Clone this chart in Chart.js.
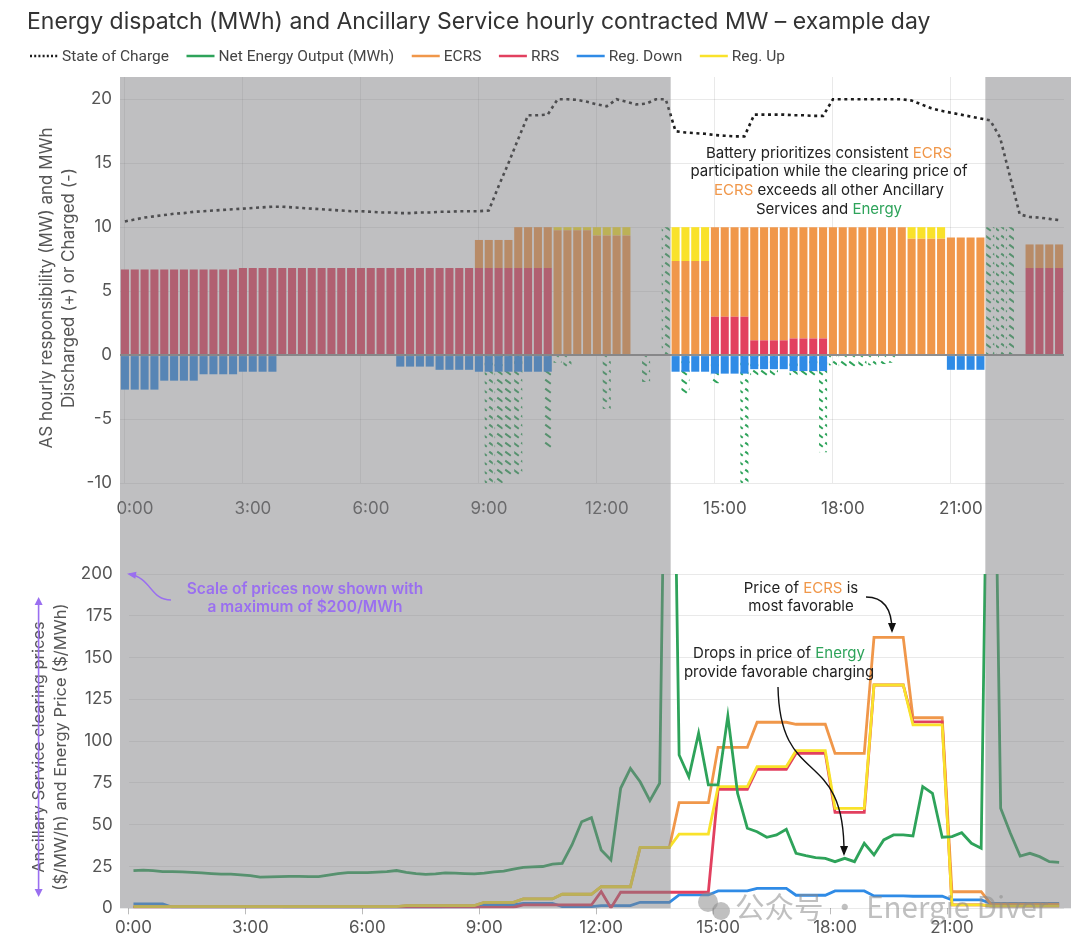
<!DOCTYPE html>
<html>
<head>
<meta charset="utf-8">
<script src="https://cdn.jsdelivr.net/npm/chart.js@4.4.1/dist/chart.umd.min.js"></script>
<style>
html,body{margin:0;padding:0;background:#fff;width:1080px;height:948px;overflow:hidden;}
canvas{position:absolute;left:0;}
#c1{top:0;}
#c2{top:545px;}
</style>
</head>
<body>
<canvas id="c1" width="1080" height="545"></canvas>
<canvas id="c2" width="1080" height="403"></canvas>
<script>
// ---------- categories (15-minute intervals) ----------
const times = ['0:00','0:15','0:30','0:45','1:00','1:15','1:30','1:45','2:00','2:15','2:30','2:45',
'3:00','3:15','3:30','3:45','4:00','4:15','4:30','4:45','5:00','5:15','5:30','5:45',
'6:00','6:15','6:30','6:45','7:00','7:15','7:30','7:45','8:00','8:15','8:30','8:45',
'9:00','9:15','9:30','9:45','10:00','10:15','10:30','10:45','11:00','11:15','11:30','11:45',
'12:00','12:15','12:30','12:45','13:00','13:15','13:30','13:45','14:00','14:15','14:30','14:45',
'15:00','15:15','15:30','15:45','16:00','16:15','16:30','16:45','17:00','17:15','17:30','17:45',
'18:00','18:15','18:30','18:45','19:00','19:15','19:30','19:45','20:00','20:15','20:30','20:45',
'21:00','21:15','21:30','21:45','22:00','22:15','22:30','22:45','23:00','23:15','23:30','23:45'];
const axisTimeLabels = ['0:00','3:00','6:00','9:00','12:00','15:00','18:00','21:00'];
const shadedPeriods = [['0:00','13:45'],['22:00','23:45']];
const topYTicks = [-10,-5,0,5,10,15,20];
const priceYTicks = [0,25,50,75,100,125,150,175,200];

// ---------- top chart: MW / MWh (4 values per hour) ----------
const stateOfCharge = [
10.45,10.6,10.75,10.85, 10.95,11.05,11.1,11.2, 11.25,11.3,11.35,11.4, 11.45,11.5,11.55,11.6,
11.6,11.55,11.5,11.45, 11.4,11.35,11.3,11.25, 11.25,11.2,11.15,11.15, 11.1,11.1,11.15,11.15,
11.2,11.2,11.25,11.25, 11.25,11.3,13.2,15.0, 16.9,18.75,18.75,18.8, 20.0,20.0,19.95,19.8,
19.6,19.45,20.0,19.8, 19.6,19.65,20.0,20.0, 17.5,17.4,17.35,17.3, 17.2,17.15,17.1,17.1,
18.8,18.8,18.8,18.8, 18.75,18.75,18.7,18.7, 20.0,20.0,20.0,20.0, 20.0,20.0,20.0,20.0,
19.9,19.6,19.3,19.1, 18.95,18.8,18.65,18.5, 18.35,17.0,14.0,11.0, 10.8,10.75,10.65,10.55];
const netEnergyOutput = [
null,null,null,null, null,null,null,null, null,null,null,null, null,null,null,null,
null,null,null,null, null,null,null,null, null,null,null,null, null,null,null,null,
null,null,null,null, null,-10.5,-10.5,-9.5, -9.5,null,null,-7.4, -0.6,-1.0,null,null,
null,-4.2,null,null, null,-2.1,null,10, null,-3.2,null,null, -2.2,null,null,-10.5,
-1.6,-1.7,-1.7,null, -1.6,-1.7,-1.8,-7.6, -0.8,-0.9,-0.9,-0.9, -0.8,-0.7,-0.6,null,
null,null,null,null, null,null,null,null, 10,10,10,null, null,null,null,null];
const rrsMW = [
6.7,6.7,6.7,6.7, 6.7,6.7,6.7,6.7, 6.7,6.7,6.7,6.7, 6.8,6.8,6.8,6.8,
6.8,6.8,6.8,6.8, 6.8,6.8,6.8,6.8, 6.8,6.8,6.8,6.8, 6.8,6.8,6.8,6.8,
6.8,6.8,6.8,6.8, 6.8,6.8,6.8,6.8, 6.8,6.8,6.8,6.8, null,null,null,null,
null,null,null,null, null,null,null,null, null,null,null,null, 3.0,3.0,3.0,3.0,
1.15,1.15,1.15,1.15, 1.3,1.3,1.3,1.3, null,null,null,null, null,null,null,null,
null,null,null,null, null,null,null,null, null,null,null,null, 6.8,6.8,6.8,6.8];
const ecrsMW = [
null,null,null,null, null,null,null,null, null,null,null,null, null,null,null,null,
null,null,null,null, null,null,null,null, null,null,null,null, null,null,null,null,
null,null,null,null, 2.2,2.2,2.2,2.2, 3.2,3.2,3.2,3.2, 9.75,9.75,9.75,9.75,
9.35,9.35,9.35,9.35, null,null,null,null, 7.35,7.35,7.35,7.35, 7.0,7.0,7.0,7.0,
8.85,8.85,8.85,8.85, 8.7,8.7,8.7,8.7, 10,10,10,10, 10,10,10,10,
9.1,9.1,9.1,9.1, 9.2,9.2,9.2,9.2, null,null,null,null, 1.85,1.85,1.85,1.85];
const regUpMW = [
null,null,null,null, null,null,null,null, null,null,null,null, null,null,null,null,
null,null,null,null, null,null,null,null, null,null,null,null, null,null,null,null,
null,null,null,null, null,null,null,null, null,null,null,null, 0.25,0.25,0.25,0.25,
0.65,0.65,0.65,0.65, null,null,null,null, 2.65,2.65,2.65,2.65, null,null,null,null,
null,null,null,null, null,null,null,null, null,null,null,null, null,null,null,null,
0.9,0.9,0.9,0.9, null,null,null,null, null,null,null,null, null,null,null,null];
const regDownMW = [
-2.7,-2.7,-2.7,-2.7, -2.0,-2.0,-2.0,-2.0, -1.5,-1.5,-1.5,-1.5, -1.3,-1.3,-1.3,-1.3,
null,null,null,null, null,null,null,null, null,null,null,null, -0.9,-0.9,-0.9,-0.9,
-1.15,-1.15,-1.15,-1.15, -1.3,-1.3,-1.3,-1.3, -1.3,-1.3,-1.3,-1.3, null,null,null,null,
null,null,null,null, null,null,null,null, -1.3,-1.3,-1.3,-1.3, -1.45,-1.45,-1.45,-1.45,
-1.1,-1.1,-1.1,-1.1, -1.25,-1.25,-1.25,-1.25, null,null,null,null, null,null,null,null,
null,null,null,null, -1.15,-1.15,-1.15,-1.15, null,null,null,null, null,null,null,null];

// ---------- bottom chart: prices ----------
const energyPrice = [
22.5,22.8,22.6,22.0, 22.0,21.8,21.5,21.2, 20.8,20.5,20.5,20.0, 19.5,18.7,18.8,18.9,
19.1,19.1,19.0,18.9, 19.8,20.8,21.3,21.3, 21.4,21.7,22.0,22.6, 21.5,20.8,20.3,20.6,
21.2,21.0,20.8,20.6, 21.0,21.8,22.2,23.5, 24.5,24.8,25.0,26.4, 26.9,37.9,51.8,54.2,
34.9,28.9,71.8,83.7, 75.7,64.4,74.8,480, 91.7,78.7,104.7,73.8, 73.8,115.0,68.8,47.9,
45.8,42.5,43.9,47.3, 32.9,31.5,30.3,29.9, 27.9,29.9,27.9,38.9, 31.9,40.9,43.9,43.9,
43.3,72.8,68.8,42.5, 42.9,45.2,38.9,35.9, 450,59.8,44.9,31.3, 32.9,30.9,27.9,27.5];
const ecrsPrice = [
1.0,1.0,1.0,1.0, 1.0,1.0,1.0,1.0, 1.0,1.0,1.0,1.0, 1.0,1.0,1.0,1.0,
1.0,1.0,1.0,1.0, 1.0,1.0,1.0,1.0, 1.0,1.0,1.0,1.0, 1.6,1.6,1.6,1.6,
1.6,1.6,1.6,1.6, 3.6,3.6,3.6,3.6, 5.6,5.6,5.6,5.6, 8.4,8.4,8.4,8.4,
12.9,12.9,12.9,12.9, 36.5,36.5,36.5,36.5, 63.2,63.2,63.2,63.2, 96.3,96.3,96.3,96.3,
111.3,111.3,111.3,111.3, 110.1,110.1,110.1,110.1, 92.7,92.7,92.7,92.7, 162.1,162.1,162.1,162.1,
114.0,114.0,114.0,114.0, 9.9,9.9,9.9,9.9, 2.5,2.5,2.5,2.5, 2.5,2.5,2.5,2.5];
const rrsPrice = [
0.5,0.5,0.5,0.5, 0.5,0.5,0.5,0.5, 0.5,0.5,0.5,0.5, 0.5,0.5,0.5,0.5,
0.5,0.5,0.5,0.5, 0.5,0.5,0.5,0.5, 0.5,0.5,0.5,0.5, 0.5,0.5,0.5,0.5,
0.5,0.5,0.5,0.5, 0.5,0.5,0.5,0.5, 2.0,2.0,2.0,2.0, 2.0,2.0,2.0,2.0,
10.0,0.2,9.6,9.6, 9.6,9.6,9.6,9.6, 9.6,9.6,9.6,9.6, 71.2,71.2,71.2,71.2,
83.2,83.2,83.2,83.2, 92.7,92.7,92.7,92.7, 57.4,57.4,57.4,57.4, 133.6,133.6,133.6,133.6,
111.5,111.5,111.5,111.5, 2.0,2.0,2.0,2.0, 1.5,1.5,1.5,1.5, 1.5,1.5,1.5,1.5];
const regDownPrice = [
2.6,2.6,2.6,2.6, 0.6,0.6,0.6,0.6, 0.6,0.6,0.6,0.6, 0.6,0.6,0.6,0.6,
0.2,0.2,0.2,0.2, 0.2,0.2,0.2,0.2, 0.2,0.2,0.2,0.2, 0.2,0.2,0.2,0.2,
0.6,0.6,0.6,0.6, 2.0,2.0,2.0,2.0, 3.0,3.0,3.0,3.0, 1.0,1.0,1.0,1.0,
1.6,1.6,1.6,1.6, 3.6,3.6,3.6,3.6, 8.0,8.0,8.0,8.0, 10.4,10.4,10.4,10.4,
11.9,11.9,11.9,11.9, 7.8,7.8,7.8,7.8, 10.4,10.4,10.4,10.4, 7.4,7.4,7.4,7.4,
7.2,7.2,7.2,7.2, 5.0,5.0,5.0,5.0, 3.0,3.0,3.0,3.0, 3.0,3.0,3.0,3.0];
const regUpPrice = [
1.0,1.0,1.0,1.0, 1.0,1.0,1.0,1.0, 1.0,1.0,1.0,1.0, 1.0,1.0,1.0,1.0,
1.0,1.0,1.0,1.0, 1.0,1.0,1.0,1.0, 1.0,1.0,1.0,1.0, 1.6,1.6,1.6,1.6,
1.6,1.6,1.6,1.6, 3.6,3.6,3.6,3.6, 5.6,5.6,5.6,5.6, 8.4,8.4,8.4,8.4,
12.9,12.9,12.9,12.9, 36.5,36.5,36.5,36.5, 44.4,44.4,44.4,44.4, 72.8,72.8,72.8,72.8,
84.8,84.8,84.8,84.8, 94.3,94.3,94.3,94.3, 59.8,59.8,59.8,59.8, 133.6,133.6,133.6,133.6,
109.7,109.7,109.7,109.7, 2.0,2.0,2.0,2.0, 1.5,1.5,1.5,1.5, 1.5,1.5,1.5,1.5];

// ---------- styling ----------
const FONT = "Inter, 'DejaVu Sans', sans-serif";
const C = {soc:'#1c1c1c', energy:'#2ea35a', ecrs:'#f0974a', rrs:'#e2405f', down:'#2f8be6', up:'#f9e22a',
           tick:'#555', grid:'rgba(0,0,0,0.085)', shade:'rgba(128,128,132,0.5)', purple:'#9a6ff0', text:'#222'};

function makeHatch(color){
  const t = document.createElement('canvas'); t.width = 8; t.height = 9;
  const g = t.getContext('2d');
  g.strokeStyle = color; g.lineWidth = 2.0; g.lineCap = 'butt';
  g.beginPath(); g.moveTo(1.2, 1.6); g.lineTo(6.8, 5.8); g.stroke();
  return g.createPattern(t, 'repeat');
}
const hatch = makeHatch(C.energy);

function shadeRanges(chart){
  const xs = chart.scales.x;
  const half = (xs.getPixelForValue(1) - xs.getPixelForValue(0)) / 2;
  return shadedPeriods.map(([a, b]) => {
    const i0 = times.indexOf(a), i1 = times.indexOf(b);
    const l = xs.getPixelForValue(i0) - half;
    let r = xs.getPixelForValue(i1) + half;
    if (i1 === times.length - 1) r += 7;
    return [l, r];
  });
}
let sharedRanges = null;

function richLine(ctx, parts, cx, y){
  let w = 0; parts.forEach(p => w += ctx.measureText(p[0]).width);
  let x = cx - w / 2; ctx.textAlign = 'left';
  parts.forEach(p => { ctx.fillStyle = p[1]; ctx.fillText(p[0], x, y); x += ctx.measureText(p[0]).width; });
}
function curvedArrow(ctx, p0, c1, c2, p3, color, lw, head){
  ctx.save();
  ctx.strokeStyle = color; ctx.fillStyle = color; ctx.lineWidth = lw;
  ctx.beginPath(); ctx.moveTo(p0[0], p0[1]); ctx.bezierCurveTo(c1[0], c1[1], c2[0], c2[1], p3[0], p3[1]); ctx.stroke();
  const a = Math.atan2(p3[1] - c2[1], p3[0] - c2[0]);
  const L = head || 8, W = (head || 8) * 0.5;
  ctx.beginPath();
  ctx.moveTo(p3[0] + Math.cos(a) * 2, p3[1] + Math.sin(a) * 2);
  ctx.lineTo(p3[0] - Math.cos(a) * L - Math.sin(a) * W, p3[1] - Math.sin(a) * L + Math.cos(a) * W);
  ctx.lineTo(p3[0] - Math.cos(a) * L + Math.sin(a) * W, p3[1] - Math.sin(a) * L - Math.cos(a) * W);
  ctx.closePath(); ctx.fill();
  ctx.restore();
}

const xTickCb = (v, i) => axisTimeLabels.includes(times[i]) ? times[i] : '';
const xGridColor = (c, col) => (c.index !== undefined && axisTimeLabels.includes(times[c.index])) ? col : 'transparent';

// ---------- top chart ----------
const topPlugin = {
  id: 'topDecor',
  afterDatasetsDraw(chart){
    const {ctx, chartArea} = chart;
    sharedRanges = shadeRanges(chart);
    ctx.save(); ctx.fillStyle = C.shade;
    sharedRanges.forEach(r => ctx.fillRect(r[0], chartArea.top, r[1] - r[0], chart.height - chartArea.top));
    ctx.restore();
  },
  afterDraw(chart){
    const ctx = chart.ctx;
    ctx.save();
    // title
    ctx.font = '23px ' + FONT; ctx.fillStyle = '#333'; ctx.textBaseline = 'middle'; ctx.textAlign = 'left';
    ctx.fillText('Energy dispatch (MWh) and Ancillary Service hourly contracted MW \u2013 example day', 27, 22);
    // legend
    const items = [
      ['State of Charge', C.soc, [2, 2.2]], ['Net Energy Output (MWh)', C.energy, []], ['ECRS', C.ecrs, []],
      ['RRS', C.rrs, []], ['Reg. Down', C.down, []], ['Reg. Up', C.up, []]];
    ctx.font = '15.5px Roboto, sans-serif';
    let x = 30; const y = 56;
    items.forEach(([t, col, dash]) => {
      ctx.strokeStyle = col; ctx.lineWidth = 2.5; ctx.setLineDash(dash);
      ctx.beginPath(); ctx.moveTo(x, y); ctx.lineTo(x + 28, y); ctx.stroke(); ctx.setLineDash([]);
      ctx.fillStyle = '#444'; ctx.fillText(t, x + 32, y + 1);
      x += 32 + ctx.measureText(t).width + 17.5;
    });
    // y title
    ctx.font = '17px ' + FONT; ctx.fillStyle = '#555'; ctx.textAlign = 'center';
    [['AS hourly responsibility (MW) and MWh', 47], ['Discharged (+) or Charged (-)', 69]].forEach(([t, xx]) => {
      ctx.save(); ctx.translate(xx, 288); ctx.rotate(-Math.PI / 2); ctx.fillText(t, 0, 0); ctx.restore();
    });
    // annotation
    ctx.font = '15px ' + FONT; ctx.textBaseline = 'middle';
    richLine(ctx, [['Battery prioritizes consistent ', C.text], ['ECRS', C.ecrs]], 829, 153);
    richLine(ctx, [['participation while the clearing price of', C.text]], 829, 171.5);
    richLine(ctx, [['ECRS', C.ecrs], [' exceeds all other Ancillary', C.text]], 829, 190.5);
    richLine(ctx, [['Services and ', C.text], ['Energy', C.energy]], 829, 209);
    ctx.restore();
  }
};

const topChart = new Chart(document.getElementById('c1'), {
  type: 'bar',
  data: {
    labels: times,
    datasets: [
      {type: 'line', label: 'State of Charge', data: stateOfCharge, borderColor: C.soc, borderWidth: 2.6,
       borderDash: [3, 3.6], pointRadius: 0, tension: 0, order: 0, stack: 'soc'},
      {label: 'RRS', data: rrsMW, backgroundColor: C.rrs, stack: 'as', order: 1},
      {label: 'ECRS', data: ecrsMW, backgroundColor: C.ecrs, stack: 'as', order: 2},
      {label: 'Reg. Up', data: regUpMW, backgroundColor: C.up, stack: 'as', order: 3},
      {label: 'Reg. Down', data: regDownMW, backgroundColor: C.down, stack: 'as', order: 4},
      {label: 'Net Energy Output (MWh)', data: netEnergyOutput, backgroundColor: hatch, stack: 'energy',
       grouped: false, order: 9}
    ]
  },
  options: {
    responsive: false, animation: false, devicePixelRatio: 1,
    layout: {padding: {top: 77, right: 16, left: 0, bottom: 0}},
    datasets: {bar: {barPercentage: 0.82, categoryPercentage: 1, borderWidth: 0}},
    plugins: {legend: {display: false}, title: {display: false}, tooltip: {enabled: false}},
    scales: {
      x: {stacked: true, offset: true, border: {display: false},
          grid: {offset: false, drawTicks: false, color: c => xGridColor(c, C.grid)},
          ticks: {autoSkip: false, maxRotation: 0, labelOffset: 10, padding: 16, color: C.tick,
                  font: {family: FONT, size: 17}, callback: xTickCb},
          afterFit: s => { s.height = 62; }},
      y: {stacked: true, min: -10, max: 21.74, border: {display: false},
          afterBuildTicks: s => { s.ticks = topYTicks.map(v => ({value: v})); },
          grid: {drawTicks: false, color: c => (c.tick && c.tick.value === 0) ? '#8e8e8e' : C.grid,
                 lineWidth: c => (c.tick && c.tick.value === 0) ? 2 : 1},
          ticks: {padding: 8, color: C.tick, font: {family: FONT, size: 17}},
          afterFit: s => { s.width = 120; }}
    }
  },
  plugins: [topPlugin]
});

// ---------- bottom chart ----------
const bottomPlugin = {
  id: 'bottomDecor',
  afterDatasetsDraw(chart){
    const {ctx, chartArea} = chart;
    const ranges = sharedRanges || shadeRanges(topChart);
    ctx.save(); ctx.fillStyle = C.shade;
    ranges.forEach(r => ctx.fillRect(r[0], 0, r[1] - r[0], chartArea.bottom));
    ctx.restore();
  },
  afterDraw(chart){
    const ctx = chart.ctx;
    ctx.save();
    ctx.textBaseline = 'middle';
    // y title
    ctx.font = '16.5px ' + FONT; ctx.fillStyle = '#555'; ctx.textAlign = 'center';
    [['Ancillary Service clearing prices', 39], ['($/MW/h) and Energy Price ($/MWh)', 61]].forEach(([t, xx]) => {
      ctx.save(); ctx.translate(xx, 202); ctx.rotate(-Math.PI / 2); ctx.fillText(t, 0, 0); ctx.restore();
    });
    // purple double arrow over first title line
    ctx.strokeStyle = C.purple; ctx.fillStyle = C.purple; ctx.lineWidth = 1.6;
    ctx.beginPath(); ctx.moveTo(38.6, 56); ctx.lineTo(38.6, 348); ctx.stroke();
    [[52, 1], [352, -1]].forEach(([yy, d]) => {
      ctx.beginPath(); ctx.moveTo(38.6, yy); ctx.lineTo(34.6, yy + 8 * d); ctx.lineTo(42.6, yy + 8 * d); ctx.closePath(); ctx.fill();
    });
    // purple note
    ctx.font = '600 15.5px ' + FONT; ctx.fillStyle = C.purple;
    richLine(ctx, [['Scale of prices now shown with', C.purple]], 305, 44);
    richLine(ctx, [['a maximum of $200/MWh', C.purple]], 305, 62);
    curvedArrow(ctx, [171, 55], [150, 55], [152, 33], [129, 29], C.purple, 1.4, 7);
    // ECRS note
    ctx.font = '15px ' + FONT;
    richLine(ctx, [['Price of ', C.text], ['ECRS', C.ecrs], [' is', C.text]], 801, 43);
    richLine(ctx, [['most favorable', C.text]], 801, 61);
    curvedArrow(ctx, [866, 52], [884, 52], [892, 65], [892, 86], '#111', 1.4, 8);
    // Energy note
    richLine(ctx, [['Drops in price of ', C.text], ['Energy', C.energy]], 779, 108);
    richLine(ctx, [['provide favorable charging', C.text]], 779, 127);
    curvedArrow(ctx, [778, 142], [780, 245], [845, 200], [844, 309], '#111', 1.4, 8);
    // watermark
    ctx.fillStyle = 'rgba(140,140,140,0.55)';
    ctx.beginPath(); ctx.arc(708, 357, 10, 0, Math.PI * 2); ctx.fill();
    ctx.beginPath(); ctx.arc(721, 366, 9, 0, Math.PI * 2); ctx.fill();
    ctx.font = "29.5px 'Noto Sans CJK SC', sans-serif"; ctx.textAlign = 'left';
    ctx.fillText('\u516C\u4F17\u53F7 \u00B7 Energie Diver', 735, 362);
    ctx.restore();
  }
};

const bottomChart = new Chart(document.getElementById('c2'), {
  type: 'line',
  data: {
    labels: times,
    datasets: [
      {label: 'Net Energy Output (MWh)', data: energyPrice, borderColor: C.energy, order: 0},
      {label: 'Reg. Up', data: regUpPrice, borderColor: C.up, order: 1},
      {label: 'RRS', data: rrsPrice, borderColor: C.rrs, order: 2},
      {label: 'ECRS', data: ecrsPrice, borderColor: C.ecrs, order: 3},
      {label: 'Reg. Down', data: regDownPrice, borderColor: C.down, order: 4}
    ]
  },
  options: {
    responsive: false, animation: false, devicePixelRatio: 1,
    layout: {padding: {top: 29, right: 16, left: 0, bottom: 0}},
    datasets: {line: {borderWidth: 2.8, pointRadius: 0, tension: 0, fill: false}},
    plugins: {legend: {display: false}, title: {display: false}, tooltip: {enabled: false}},
    scales: {
      x: {offset: true, border: {display: false},
          grid: {offset: true, drawOnChartArea: false, drawTicks: true, tickLength: 6, color: c => xGridColor(c, '#bbb')},
          ticks: {autoSkip: false, maxRotation: 0, padding: 3, color: C.tick, font: {family: FONT, size: 17}, callback: xTickCb},
          afterFit: s => { s.height = 39.7; }},
      y: {min: 0, max: 200, border: {display: false},
          afterBuildTicks: s => { s.ticks = priceYTicks.map(v => ({value: v})); },
          grid: {drawTicks: false, color: C.grid},
          ticks: {padding: 16, color: C.tick, font: {family: FONT, size: 17}},
          afterFit: s => { s.width = 128.6; }}
    }
  },
  plugins: [bottomPlugin]
});
</script>
</body>
</html>
